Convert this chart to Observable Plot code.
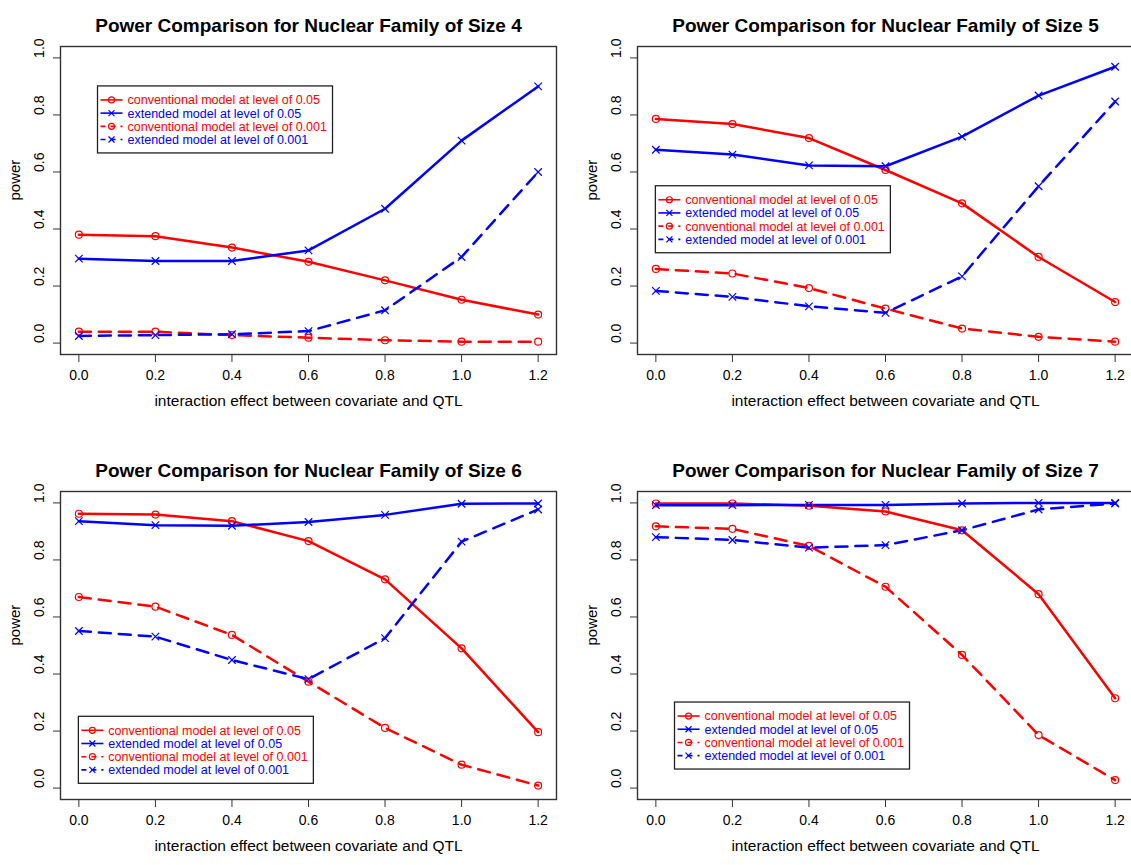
<!DOCTYPE html>
<html><head><meta charset="utf-8">
<script src="https://cdn.jsdelivr.net/npm/d3@7"></script>
<script src="https://cdn.jsdelivr.net/npm/@observablehq/plot@0.6"></script>
<style>
html,body{margin:0;padding:0;background:#fff;}
#wrap{position:relative;width:1131px;height:865px;overflow:hidden;background:#fff;}
.panel{position:absolute;width:577px;height:445px;}
.panel svg{max-width:none !important;}
</style></head><body><div id="wrap"></div>
<script>
// ---- data ----
const effect = [0, 0.2, 0.4, 0.6, 0.8, 1.0, 1.2];
const familySizes = [4, 5, 6, 7];
const xTicks = [0, 0.2, 0.4, 0.6, 0.8, 1.0, 1.2];
const yTicks = [0, 0.2, 0.4, 0.6, 0.8, 1.0];
const seriesNames = [
  "conventional model at level of 0.05",
  "extended model at level of 0.05",
  "conventional model at level of 0.001",
  "extended model at level of 0.001"
];
const seriesModel = ["conventional", "extended", "conventional", "extended"];
const seriesLevel = ["0.05", "0.05", "0.001", "0.001"];

const size4Conv05  = [0.380, 0.375, 0.335, 0.285, 0.220, 0.152, 0.100];
const size4Ext05   = [0.296, 0.288, 0.288, 0.325, 0.471, 0.710, 0.900];
const size4Conv001 = [0.040, 0.040, 0.028, 0.019, 0.010, 0.005, 0.005];
const size4Ext001  = [0.025, 0.028, 0.031, 0.042, 0.115, 0.302, 0.600];

const size5Conv05  = [0.786, 0.768, 0.719, 0.607, 0.490, 0.302, 0.144];
const size5Ext05   = [0.678, 0.661, 0.623, 0.620, 0.724, 0.868, 0.969];
const size5Conv001 = [0.260, 0.244, 0.193, 0.121, 0.051, 0.022, 0.005];
const size5Ext001  = [0.183, 0.162, 0.129, 0.106, 0.234, 0.550, 0.847];

const size6Conv05  = [0.962, 0.959, 0.936, 0.866, 0.732, 0.490, 0.196];
const size6Ext05   = [0.936, 0.922, 0.920, 0.933, 0.958, 0.997, 0.998];
const size6Conv001 = [0.670, 0.636, 0.537, 0.373, 0.211, 0.082, 0.009];
const size6Ext001  = [0.551, 0.531, 0.449, 0.382, 0.526, 0.864, 0.977];

const size7Conv05  = [0.998, 0.998, 0.990, 0.970, 0.904, 0.680, 0.315];
const size7Ext05   = [0.992, 0.992, 0.993, 0.993, 0.998, 1.000, 1.000];
const size7Conv001 = [0.918, 0.909, 0.849, 0.706, 0.467, 0.186, 0.028];
const size7Ext001  = [0.880, 0.870, 0.843, 0.852, 0.904, 0.977, 0.998];

const legendX = [0.05, 0, 0, 0.05];
const legendY = [0.90, 0.55, 0.25, 0.30];

const titleText = "Power Comparison for Nuclear Family of Size ";
const xLabel = "interaction effect between covariate and QTL";
const yLabel = "power";

// ---- build table ----
const seriesBySize = {
  4: [size4Conv05, size4Ext05, size4Conv001, size4Ext001],
  5: [size5Conv05, size5Ext05, size5Conv001, size5Ext001],
  6: [size6Conv05, size6Ext05, size6Conv001, size6Ext001],
  7: [size7Conv05, size7Ext05, size7Conv001, size7Ext001]
};
const table = [];
for (const s of familySizes) {
  seriesBySize[s].forEach((vals, k) => {
    vals.forEach((v, j) => table.push({size: s, series: seriesNames[k], model: seriesModel[k], level: seriesLevel[k], effect: effect[j], power: v}));
  });
}

const RED = "#ff0000", BLUE = "#0000ff";
const colorOf = m => m === "conventional" ? RED : BLUE;
const FONT = "'Liberation Sans', Arial, Helvetica, sans-serif";
const DASH = "12 8";

function legendMark(lx, ly) {
  return (index, scales) => {
    const g = d3.create("svg:g");
    const x0 = scales.x(lx), y0 = scales.y(ly);
    g.append("rect").attr("x", x0).attr("y", y0).attr("width", 235).attr("height", 67)
      .attr("fill", "white").attr("stroke", "#222").attr("stroke-width", 1.3);
    seriesNames.forEach((name, i) => {
      const yy = y0 + 14 + i * 13.2;
      const c = colorOf(seriesModel[i]);
      const dashed = seriesLevel[i] === "0.001";
      g.append("line").attr("x1", x0 + 3).attr("x2", x0 + 25).attr("y1", yy).attr("y2", yy)
        .attr("stroke", c).attr("stroke-width", 1.6)
        .attr("stroke-dasharray", dashed ? "5 5" : null);
      const mx = x0 + 14;
      if (seriesModel[i] === "conventional") {
        g.append("circle").attr("cx", mx).attr("cy", yy).attr("r", 3).attr("fill", "none").attr("stroke", c).attr("stroke-width", 1.2);
      } else {
        g.append("path").attr("d", `M${mx-3},${yy-3}L${mx+3},${yy+3}M${mx-3},${yy+3}L${mx+3},${yy-3}`).attr("stroke", c).attr("stroke-width", 1.2);
      }
      g.append("text").attr("x", x0 + 30).attr("y", yy).attr("dy", "0.35em")
        .attr("text-anchor", "start")
        .attr("fill", c).attr("font-size", 12.5).attr("font-family", FONT).text(name);
    });
    return g.node();
  };
}

function panel(i) {
  const size = familySizes[i];
  const rows = table.filter(d => d.size === size);
  const solid = rows.filter(d => d.level === "0.05");
  const dashed = rows.filter(d => d.level === "0.001");
  const conv = rows.filter(d => d.model === "conventional");
  const ext = rows.filter(d => d.model === "extended");
  return Plot.plot({
    width: 577, height: 445,
    marginTop: 46, marginRight: 21, marginBottom: 91, marginLeft: 60,
    x: {domain: [-0.048, 1.248]},
    y: {domain: [-0.04, 1.04]},
    color: {domain: ["conventional", "extended"], range: [RED, BLUE]},
    style: {fontFamily: FONT, background: "white", color: "black", overflow: "visible", maxWidth: "none"},
    marks: [
      Plot.axisX({ticks: xTicks, tickSize: 8, tickPadding: 8, tickFormat: d3.format(".1f"), fontSize: 14, label: null, stroke: "#333"}),
      Plot.axisY({ticks: yTicks, tickSize: 7, tickFormat: () => "", label: null, stroke: "#333"}),
      Plot.text(yTicks, {y: d => d, text: d3.format(".1f"), frameAnchor: "left", dx: -21, rotate: -90, fontSize: 14}),
      Plot.text([titleText + size], {frameAnchor: "top", dy: -28, text: d => d, fontSize: 19, fontWeight: "bold"}),
      Plot.text([xLabel], {frameAnchor: "bottom", dy: 51, text: d => d, fontSize: 15.5}),
      Plot.text([yLabel], {frameAnchor: "left", dx: -45, rotate: -90, text: d => d, fontSize: 15}),
      Plot.line(solid, {x: "effect", y: "power", z: "series", stroke: "model", strokeWidth: 2.5}),
      Plot.line(dashed, {x: "effect", y: "power", z: "series", stroke: "model", strokeWidth: 2.5, strokeDasharray: DASH}),
      Plot.dot(conv, {x: "effect", y: "power", stroke: "model", symbol: "circle", r: 3.5, fill: "none", strokeWidth: 1.2}),
      Plot.dot(ext, {x: "effect", y: "power", stroke: "model", symbol: "times", r: 3.5, strokeWidth: 1.2}),
      legendMark(legendX[i], legendY[i]),
      Plot.frame({stroke: "#333", strokeWidth: 1.4})
    ]
  });
}

const wrap = document.getElementById("wrap");
const offsets = [[0, 0], [577, 0], [0, 445], [577, 445]];
familySizes.forEach((s, i) => {
  const d = document.createElement("div");
  d.className = "panel";
  d.style.left = offsets[i][0] + "px";
  d.style.top = offsets[i][1] + "px";
  d.appendChild(panel(i));
  wrap.appendChild(d);
});
</script>
</body></html>
